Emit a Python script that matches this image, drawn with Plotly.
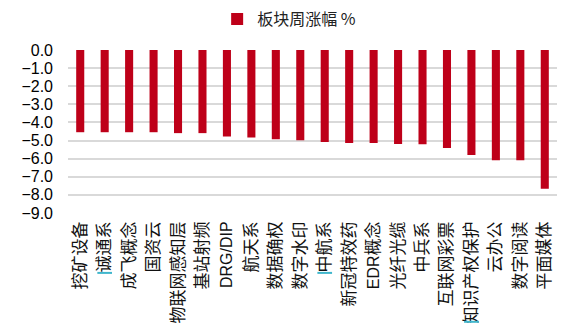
import re
import plotly.graph_objects as go

# 板块周涨幅 (%)
categories = ["挖矿设备", "诚通系", "成飞概念", "国资云", "物联网感知层", "基站射频",
              "DRG/DIP", "航天系", "数据确权", "数字水印", "中航系", "新冠特效药",
              "EDR概念", "光纤光缆", "中兵系", "互联网彩票", "知识产权保护", "云办公",
              "数字阅读", "平面媒体"]
weekly_change = [-4.54, -4.54, -4.54, -4.54, -4.59, -4.59, -4.78, -4.83, -4.93, -4.98,
                 -5.08, -5.13, -5.13, -5.19, -5.21, -5.41, -5.80, -6.09, -6.09, -7.66]
y_ticks = [0, -1, -2, -3, -4, -5, -6, -7, -8, -9]
marked_labels = ["诚通系", "中航系", "知识产权保护"]

W, H = 586, 327
M_L, M_R, M_T, M_B = 68, 29, 50, 114
PLOT_H = H - M_T - M_B
BAR_RED = "#BE0019"
LABEL_FONT = "Liberation Sans, Noto Sans CJK SC, sans-serif"
LATIN_FONT = "Liberation Sans, Arial, sans-serif"


def tick_label(text):
    # Latin runs are set a little smaller than the CJK characters
    return re.sub(r"([A-Za-z/]+)", r'<span style="font-size:16px">\1</span>', text)


fig = go.Figure()
fig.add_trace(go.Bar(
    x=categories, y=weekly_change, name="板块周涨幅 %",
    marker=dict(color=BAR_RED, line=dict(width=0)),
))

# small cyan edit markers at the start of a few category labels
LABEL_GAP = 9
CHAR_PITCH = 16.3
shapes = []
for cat in marked_labels:
    i = categories.index(cat)
    y_px = LABEL_GAP + len(cat) * CHAR_PITCH + 2
    shapes.append(dict(
        type="line", xref="x", yref="paper",
        x0=i - 0.3, x1=i + 0.3, y0=-y_px / PLOT_H, y1=-y_px / PLOT_H,
        line=dict(color="#3FB6CC", width=2)))

fig.update_layout(
    width=W, height=H,
    margin=dict(l=M_L, r=M_R, t=M_T, b=M_B, autoexpand=False),
    paper_bgcolor="white", plot_bgcolor="white",
    bargap=0.67,
    showlegend=True,
    legend=dict(orientation="h", x=0.305, xanchor="left",
                y=1 + 31 / PLOT_H, yanchor="middle",
                font=dict(family="Noto Sans CJK SC", size=16, color="#222222"),
                itemwidth=30, bgcolor="rgba(0,0,0,0)"),
    shapes=shapes,
)
fig.update_xaxes(tickangle=-90, showline=False, showgrid=False, zeroline=False,
                 ticks="", ticklabelstandoff=4,
                 tickmode="array", tickvals=categories,
                 ticktext=[tick_label(c) for c in categories],
                 tickfont=dict(family=LABEL_FONT, size=17, color="#111111"))
fig.update_yaxes(range=[-9, 0], tickvals=y_ticks, tickformat=".1f",
                 showgrid=True, gridcolor="#D9D9D9", gridwidth=1.5,
                 zeroline=False, showline=False, ticks="",
                 ticklabelstandoff=14,
                 tickfont=dict(family=LATIN_FONT, size=16, color="#000000"))

fig.write_html("out.html")
